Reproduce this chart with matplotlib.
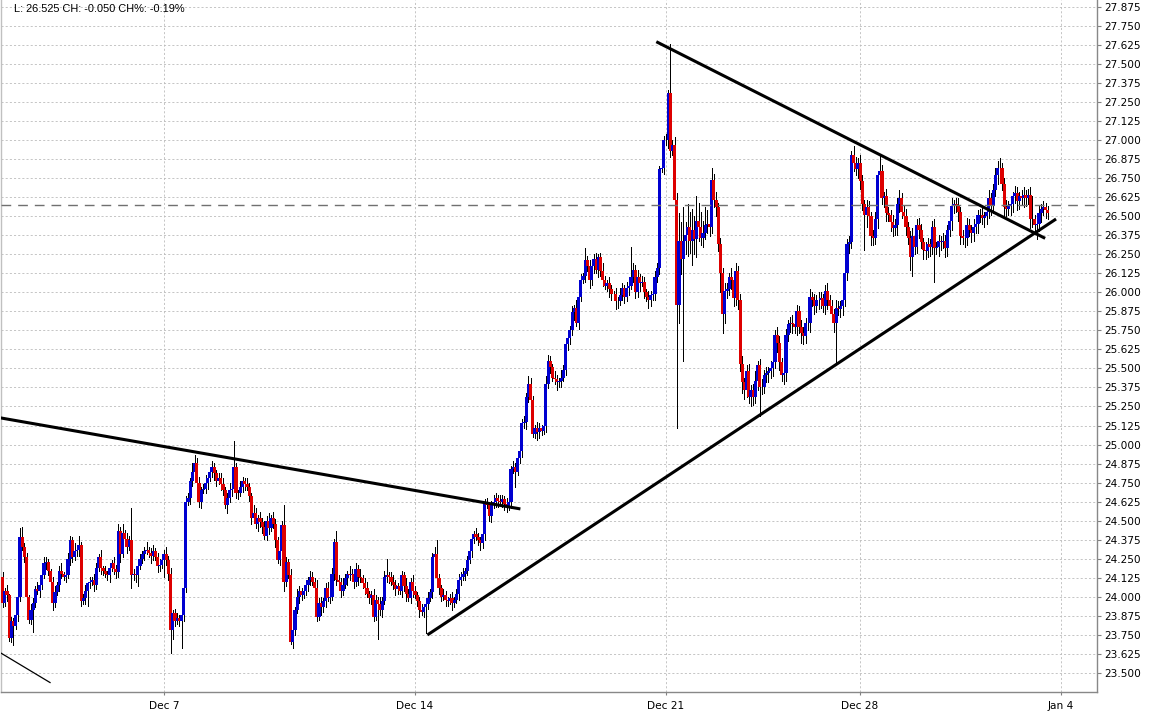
import numpy as np
import matplotlib.pyplot as plt
from matplotlib.ticker import FixedLocator, FormatStrFormatter

# hourly candles, prices in cents; open of each bar = previous close
first_open = 2413
closes = [
    2396, 2404, 2401, 2373, 2384, 2381, 2388, 2400, 2439, 2433,
    2426, 2400, 2385, 2391, 2396, 2405, 2404, 2408, 2414, 2422,
    2423, 2417, 2410, 2396, 2403, 2408, 2417, 2415, 2413, 2414,
    2425, 2437, 2426, 2430, 2431, 2434, 2397, 2399, 2404, 2409,
    2410, 2411, 2408, 2419, 2426, 2419, 2417, 2415, 2414, 2419,
    2422, 2418, 2416, 2443, 2428, 2442, 2438, 2433, 2437, 2414,
    2415, 2414, 2420, 2425, 2428, 2430, 2431, 2429, 2427, 2430,
    2426, 2420, 2421, 2424,
    # Dec 7 week
    2428, 2424, 2415, 2378, 2389, 2384,
    2386, 2384, 2388, 2406, 2462, 2465, 2476, 2482, 2488, 2475,
    2462, 2470, 2471, 2475, 2478, 2482, 2485, 2481, 2476, 2478,
    2474, 2470, 2460, 2465, 2470, 2471, 2485, 2468, 2468, 2472,
    2476, 2474, 2472, 2466, 2452, 2455, 2448, 2452, 2449, 2446,
    2440, 2450, 2445, 2452, 2448, 2437, 2424, 2430, 2447, 2410,
    2423, 2414, 2370, 2378, 2391, 2400, 2404, 2401, 2404, 2408,
    2411, 2413, 2410, 2406,
    2387, 2396, 2393, 2397, 2406, 2399, 2400, 2415, 2436,
    2411, 2410, 2404, 2408, 2412, 2415, 2414, 2415, 2410, 2418,
    2413, 2412, 2409, 2406, 2402, 2399, 2401, 2387, 2398, 2395,
    2391, 2397, 2413,
    2414, 2413, 2410, 2408, 2405, 2407, 2404, 2414, 2407, 2402,
    2399, 2410, 2404,
    # Dec 14 week
    2401, 2397, 2391, 2390, 2393, 2395, 2399, 2403, 2426, 2428, 2412,
    2406, 2400, 2401, 2398, 2397, 2399, 2396, 2398, 2402, 2411,
    2413, 2415, 2417, 2424, 2430, 2438, 2441, 2439, 2437, 2435,
    2441, 2461, 2460, 2453, 2460, 2462, 2465, 2463, 2462, 2464,
    2461, 2459, 2462, 2484, 2485, 2482, 2491, 2496,
    2514, 2515, 2531, 2540, 2529, 2507, 2511, 2508, 2511, 2509, 2512, 2540,
    2555, 2551, 2544, 2543, 2541, 2542, 2544, 2549, 2566, 2570,
    2575, 2587, 2590, 2580, 2597, 2608, 2611, 2621, 2617, 2608,
    2617, 2622, 2615, 2623, 2614, 2608, 2604, 2606, 2602, 2599,
    2599, 2594, 2594, 2598, 2603, 2597, 2603, 2604, 2610, 2615,
    2600, 2610, 2606, 2607, 2600, 2597, 2595, 2598, 2599, 2610,
    2616, 2681, 2682, 2700,
    # Dec 21 week
    2700, 2731, 2693, 2697, 2661, 2592,
    2634, 2622, 2634, 2638, 2643, 2634, 2641, 2635, 2647, 2643,
    2636, 2639, 2644, 2645, 2643, 2674, 2661, 2656, 2632, 2613,
    2586, 2601, 2602, 2610, 2608, 2596, 2614, 2595, 2553, 2541,
    2536, 2548, 2531, 2536, 2531, 2542, 2552, 2538, 2538, 2546,
    2547, 2548, 2550, 2554, 2572, 2567, 2554, 2546, 2547, 2572,
    2579, 2580, 2579, 2577, 2588,
    2577, 2573, 2571, 2580, 2580, 2597, 2595, 2591, 2595, 2595,
    2596, 2591, 2601, 2595, 2591, 2586, 2580, 2590, 2589, 2591,
    2595, 2613, 2632, 2633, 2690, 2685, 2681, 2685,
    # Dec 28 week
    2673, 2658, 2651, 2656, 2650, 2637, 2636, 2648, 2677, 2680,
    2662, 2663, 2652, 2651, 2646, 2642, 2644, 2658, 2662, 2653,
    2650, 2643, 2636, 2623, 2637, 2630, 2644, 2641, 2633, 2628,
    2627, 2632, 2630, 2643, 2629, 2630, 2634, 2633, 2634, 2629,
    2641, 2647, 2657, 2658, 2657, 2653, 2637, 2636, 2636, 2644,
    2641, 2639, 2643, 2645, 2651, 2651, 2649, 2650, 2653, 2662,
    2657, 2667, 2677, 2682, 2682, 2671, 2656, 2655, 2657, 2658,
    2663, 2665, 2660, 2663, 2662, 2664, 2662, 2664, 2648, 2648,
    2644, 2645, 2652, 2655, 2656, 2654, 2652,
]

# wick length above / below the body, cents
up_wick = [
    3, 2, 4, 1, 3, 2, 5, 3, 6, 7,  2, 3, 1, 4, 3, 2, 5, 2, 3, 4,
    3, 2, 1, 3, 4, 2, 3, 5, 1, 2,  4, 3, 2, 5, 3, 6, 2, 3, 4, 1,
    3, 2, 4, 3, 2, 5, 1, 3, 2, 3,  2, 4, 3, 5, 3, 6, 2, 4, 3, 21,
    3, 2, 4, 3, 2, 3, 5, 2, 3, 4,  2, 3, 4, 2, 3, 5, 3, 4, 2, 3,
    3, 2, 4, 3, 4, 3, 2, 6, 5, 3,  4, 2, 3, 5, 3, 2, 4, 3, 2, 3,
    3, 4, 2, 3, 5, 3, 17, 3, 2, 4, 3, 2, 4, 3, 2, 5, 3, 2, 4, 3,
    4, 3, 5, 2, 4, 3, 2, 6, 3, 13, 3, 2, 4, 3, 2, 5, 3, 2, 4, 3,
    2, 4, 3, 2, 5, 3, 4, 2, 3, 4,  3, 4, 2, 7, 3, 2, 4, 3, 2, 5,
    3, 2, 4, 3, 5, 2, 3, 4, 2, 3,  4, 3, 2, 5, 3, 4, 11, 2, 3, 4,
    3, 2, 4, 3, 2, 5, 3, 2, 4, 3,  2, 3, 4, 2, 3, 4, 2, 3, 5, 9,
    3, 2, 4, 3, 2, 3, 4, 2, 3, 4,  3, 4, 2, 3, 5, 3, 2, 4, 3, 2,
    9, 3, 4, 2, 3, 5, 3, 2, 4, 3,  2, 4, 3, 2, 4, 3, 2, 5, 3, 4,
    3, 5, 4, 3, 2, 4, 3, 2, 3, 5,  4, 3, 2, 4, 3, 2, 5, 3, 2, 4,
    3, 4, 2, 5, 3, 4, 2, 8, 3, 4,  5, 3, 4, 2, 3, 5, 3, 2, 4, 3,
    2, 4, 3, 5, 3, 2, 4, 3, 20, 4, 3, 5, 2, 4, 3, 2, 4, 3, 2, 4,
    3, 2, 4, 3, 4, 2, 32, 3, 5, 4, 18, 12, 22, 8, 15, 10, 14, 9, 16, 12,
    10, 8, 12, 9, 6, 8, 4, 5, 3, 4, 3, 5, 4, 3, 6, 4, 5, 3, 4, 5,
    3, 4, 5, 3, 4, 6, 3, 4, 5, 3,  4, 3, 5, 4, 3, 5, 4, 3, 6, 4,
    3, 4, 5, 3, 4, 3, 5, 4, 3, 4,  5, 3, 4, 3, 5, 4, 3, 4, 5, 3,
    4, 3, 5, 4, 3, 4, 5, 3, 4, 3,  6, 4, 3, 5, 4, 3, 5, 4, 3, 4,
    5, 3, 10, 4, 3, 5, 4, 3, 5, 4, 4, 5, 3, 4, 5, 3, 4, 5, 3, 4,
    5, 4, 3, 5, 4, 3, 4, 5, 3, 4,  3, 5, 4, 3, 4, 5, 3, 4, 5, 3,
    4, 3, 5, 4, 3, 5, 4, 3, 4, 5,  3, 4, 5, 3, 4, 5, 4, 6, 3, 4,
    5, 3, 4, 3, 5, 4, 3, 4, 5, 3,  4, 5, 15, 3, 4, 5, 3, 4, 3, 3,
]
down_wick = [
    3, 2, 4, 2, 3, 13, 2, 4, 3, 2, 3, 4, 2, 3, 14, 3, 2, 4, 3, 2,
    4, 3, 2, 5, 3, 2, 4, 3, 2, 3,  2, 4, 3, 2, 3, 4, 3, 2, 4, 10,
    3, 2, 4, 3, 2, 4, 3, 2, 3, 4,  2, 3, 4, 3, 5, 2, 3, 4, 2, 8,
    3, 4, 7, 2, 3, 4, 2, 3, 5, 3,  2, 4, 3, 2, 11, 3, 4, 15, 6, 3,
    2, 3, 18, 4, 3, 2, 4, 3, 2, 4, 3, 4, 2, 3, 4, 2, 3, 4, 3, 2,
    4, 3, 2, 5, 3, 4, 2, 3, 4, 2,  3, 4, 2, 3, 4, 2, 3, 5, 3, 4,
    2, 3, 4, 2, 3, 4, 2, 3, 4, 6,  3, 2, 1, 4, 3, 2, 4, 3, 2, 3,
    4, 3, 2, 4, 3, 2, 5, 3, 4, 2,  3, 2, 4, 3, 2, 4, 3, 2, 4, 3,
    2, 4, 3, 5, 2, 3, 4, 2, 3, 4,  3, 2, 23, 3, 4, 2, 3, 4, 2, 3,
    4, 3, 2, 4, 3, 5, 2, 3, 4, 2,  3, 4, 2, 3, 17, 3, 2, 4, 3, 2,
    4, 3, 2, 4, 3, 2, 5, 3, 2, 4,  3, 2, 4, 3, 2, 4, 3, 2, 3, 4,
    3, 4, 2, 3, 4, 2, 3, 4, 2, 3,  4, 3, 2, 4, 3, 10, 2, 3, 4, 3,
    5, 3, 4, 2, 3, 5, 4, 3, 2, 4,  3, 4, 2, 3, 5, 3, 4, 2, 3, 4,
    4, 3, 5, 2, 4, 3, 2, 4, 3, 5,  3, 4, 2, 5, 3, 4, 2, 3, 5, 4,
    3, 5, 4, 2, 3, 4, 3, 5, 2, 3,  4, 3, 5, 2, 4, 3, 5, 4, 3, 4,
    3, 4, 2, 4, 3, 5, 4, 3, 6, 81, 12, 10, 67, 9, 14, 8, 16, 10, 12, 9,
    5, 6, 4, 5, 6, 4, 5, 6, 5, 13, 13, 6, 5, 4, 6, 5, 4, 6, 5, 7,
    6, 5, 4, 6, 5, 4, 6, 19, 5, 4, 5, 6, 4, 5, 4, 6, 5, 4, 6, 5,
    4, 5, 6, 4, 5, 4, 6, 5, 4, 5,  6, 4, 5, 4, 6, 5, 4, 5, 6, 4,
    5, 6, 26, 4, 5, 6, 4, 5, 6, 4, 5, 4, 6, 5, 4, 23, 8, 4, 6, 5,
    4, 6, 5, 4, 6, 5, 4, 6, 5, 4,  6, 5, 4, 6, 5, 4, 8, 12, 5, 4,
    5, 4, 6, 5, 4, 6, 5, 22, 4, 6, 5, 4, 6, 5, 4, 6, 5, 4, 6, 5,
    4, 6, 5, 4, 6, 5, 4, 6, 5, 4,  6, 5, 4, 6, 5, 4, 6, 5, 4, 6,
    5, 4, 6, 5, 4, 6, 5, 4, 6, 5,  4, 6, 5, 4, 9, 5, 6, 4, 5, 4,
]

tick_idx = [74, 189, 304, 393, 485]
tick_labels = ['Dec 7', 'Dec 14', 'Dec 21', 'Dec 28', 'Jan 4']

prev_close = 26.575
header = 'L: 26.525 CH: -0.050 CH%: -0.19%'

# hand drawn trend lines: (bar index, price)
resist_early = [(-0.9, 25.175), (237.3, 24.577)]
old_line = [(-0.9, 23.631), (22.0, 23.434)]
support = [(194.7, 23.749), (482.8, 26.482)]
resist_late = [(299.6, 27.647), (477.8, 26.355)]

c = np.array(closes) / 100.0
o = np.r_[first_open / 100.0, c[:-1]]
hi = np.maximum(o, c) + np.array(up_wick) / 100.0
lo = np.minimum(o, c) - np.array(down_wick) / 100.0
x = np.arange(len(c))
colors = np.where(c >= o, '#0000d0', '#dd0000')

fig = plt.figure(figsize=(11.5, 7.17), dpi=100)
ax = fig.add_axes([0.0005, 25 / 717, 1096.5 / 1150, 692 / 717])

ax.vlines(x, lo, hi, color='black', lw=0.72, zorder=2, antialiased=False)
ax.bar(x, c - o, bottom=o, width=1.45, color=colors, linewidth=0, zorder=3,
       antialiased=False)

for line, lw in [(resist_early, 2.2), (old_line, 0.9), (support, 2.2), (resist_late, 2.2)]:
    xs, ys = zip(*line)
    ax.plot(xs, ys, color='black', lw=lw, solid_capstyle='butt', zorder=5)

ax.axhline(prev_close, color='#707070', lw=1.0, linestyle=(0, (7, 5)), zorder=4)

ax.set_xlim(-0.92, 501.6)
ax.set_ylim(23.374, 27.921)

ax.yaxis.set_major_locator(FixedLocator(np.arange(23.5, 27.876, 0.125)))
ax.yaxis.set_major_formatter(FormatStrFormatter('%.3f'))
ax.yaxis.tick_right()
ax.set_xticks(tick_idx)
ax.set_xticklabels(tick_labels)

ax.grid(True, color='#bcbcbc', linestyle=(0, (2.5, 2.5)), lw=0.6, zorder=0)
ax.set_axisbelow(True)

ax.tick_params(axis='y', length=3, color='#808080', labelsize=7.6, pad=2)
ax.tick_params(axis='x', length=2.5, color='#808080', labelsize=7.6, pad=4)

for side in ['left', 'bottom', 'right']:
    ax.spines[side].set_color('#888888')
    ax.spines[side].set_linewidth(1.0)
ax.spines['left'].set_color('#c0c0c0')
ax.spines['top'].set_visible(False)

fig.text(14 / 1150, 1 - 9 / 717, header, ha='left', va='center',
         fontsize=7.9, family=['Liberation Sans', 'DejaVu Sans'])

fig.savefig('out.png', dpi=100)
